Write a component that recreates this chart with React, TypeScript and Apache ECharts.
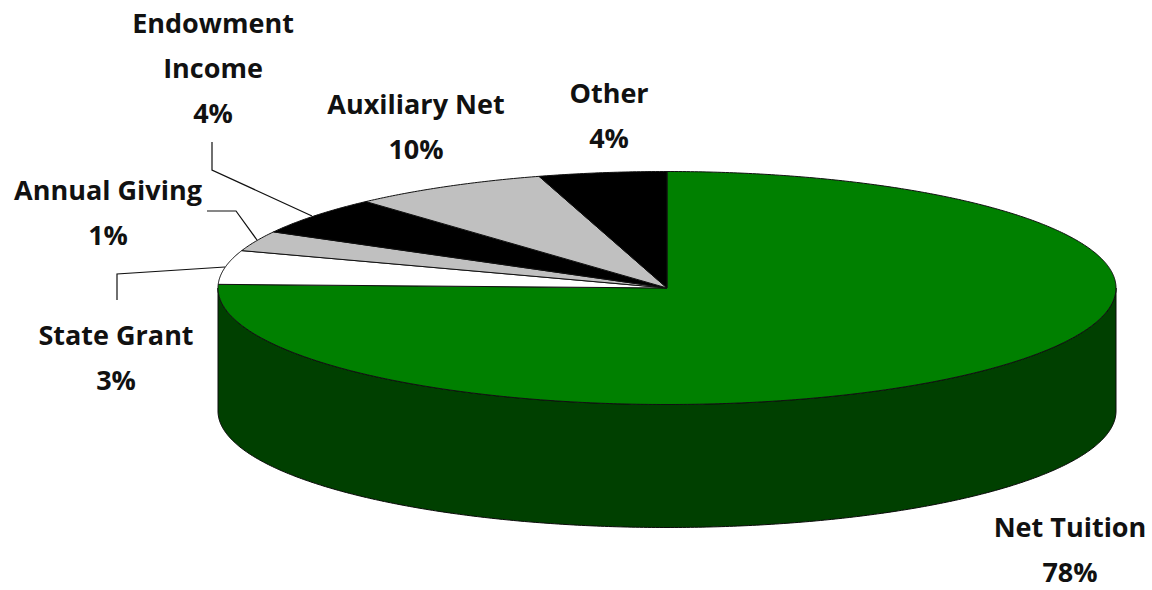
import React, { useEffect, useRef } from "react";
import * as echarts from "echarts";

// Slices clockwise from 12 o'clock. drawnShares = share of the rim as drawn, labelPercents = printed labels.
const categories = ["Net Tuition", "State Grant", "Annual Giving", "Endowment Income", "Auxiliary Net", "Other"];
const drawnShares = [75.5, 4.7, 2.8, 5.3, 7.1, 4.6];
const labelPercents = ["78%", "3%", "1%", "4%", "10%", "4%"];
const topColors = ["#008000", "#ffffff", "#c0c0c0", "#000000", "#c0c0c0", "#000000"];
const sideColors = ["#004000", "#808080", "#606060", "#000000", "#606060", "#000000"];

const labelLines = [
  ["Net Tuition"],
  ["State Grant"],
  ["Annual Giving"],
  ["Endowment", "Income"],
  ["Auxiliary Net"],
  ["Other"],
];
const labelCenters = [
  [1070, 526],
  [116, 334],
  [108, 189],
  [213, 22],
  [416, 103],
  [609, 92],
];
const leaderLines = [
  [[212, 142], [212, 170], [312, 216]],
  [[207, 211], [236, 211], [257, 240]],
  [[117, 300], [117, 274], [225, 267]],
];

const CX = 667;
const CY = 288;
const RX = 449;
const RY = 116.5;
const DEPTH = 123;
const LINE_GAP = 45;
const FONT = '700 27px "Open Sans", Lato, sans-serif';

const rim = (deg: number, dy = 0): number[] => {
  const r = (deg * Math.PI) / 180;
  return [CX + RX * Math.sin(r), CY - RY * Math.cos(r) + dy];
};
const arc = (a: number, b: number, dy = 0): number[][] => {
  const n = Math.max(2, Math.ceil(Math.abs(b - a) * 2));
  const pts: number[][] = [];
  for (let i = 0; i <= n; i++) pts.push(rim(a + ((b - a) * i) / n, dy));
  return pts;
};

const total = drawnShares.reduce((s, v) => s + v, 0);
let running = 0;
const sliceRows = drawnShares.map((v, i) => {
  const start = (running / total) * 360;
  running += v;
  return { name: categories[i], value: [start, (running / total) * 360, i] };
});

const renderItem = (_params: any, api: any) => {
  const a = api.value(0);
  const b = api.value(1);
  const i = api.value(2);
  const children: any[] = [];
  const s0 = Math.max(a, 90);
  const s1 = Math.min(b, 270);
  if (s1 > s0) {
    children.push({
      type: "polygon",
      shape: { points: [...arc(s0, s1), ...arc(s1, s0, DEPTH)] },
      style: { fill: sideColors[i], stroke: "#0a0a0a", lineWidth: 1 },
    });
  }
  children.push({
    type: "polygon",
    shape: { points: [[CX, CY], ...arc(a, b)] },
    style: { fill: topColors[i], stroke: "#111111", lineWidth: 1 },
  });
  return { type: "group", children };
};

export default function App() {
  const ref = useRef<HTMLDivElement>(null);
  useEffect(() => {
    document.body.style.margin = "0";
    const chart = echarts.init(ref.current!, undefined, { renderer: "svg" });
    const texts: any[] = [];
    categories.forEach((_, i) => {
      const [x, y] = labelCenters[i];
      [...labelLines[i], labelPercents[i]].forEach((t, j) => {
        texts.push({
          type: "text",
          x,
          y: y + j * LINE_GAP,
          z: 10,
          style: { text: t, font: FONT, fill: "#111111", align: "center", verticalAlign: "middle" },
        });
      });
    });
    const lines = leaderLines.map((points) => ({
      type: "polyline",
      z: 10,
      shape: { points },
      style: { fill: "none", stroke: "#111111", lineWidth: 1.2 },
    }));
    chart.setOption({
      animation: false,
      backgroundColor: "#ffffff",
      series: [
        {
          type: "custom",
          coordinateSystem: "none",
          silent: true,
          renderItem,
          data: sliceRows,
        },
      ],
      graphic: { elements: [...lines, ...texts] },
    });
    return () => chart.dispose();
  }, []);
  return <div ref={ref} style={{ width: 1152, height: 590 }} />;
}
